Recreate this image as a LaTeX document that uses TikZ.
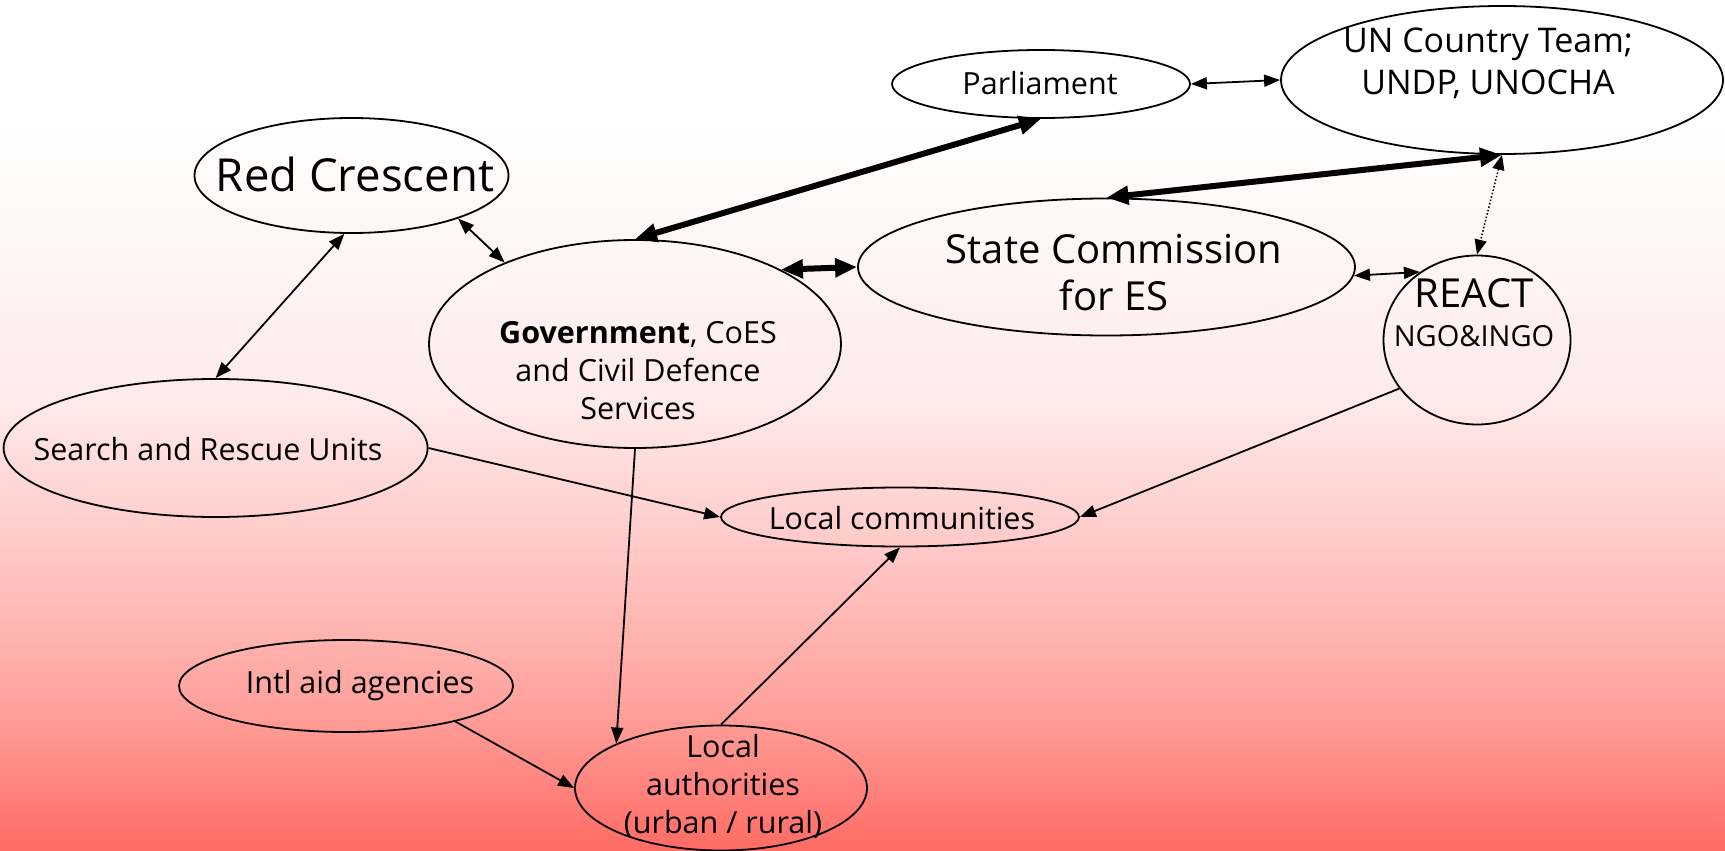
\documentclass[tikz,border=0pt]{standalone}
\usepackage{fontspec}
\setmainfont{Open Sans}
\usetikzlibrary{shapes.geometric,arrows.meta}

\definecolor{bgA}{RGB}{255,234,234}
\definecolor{bgB}{RGB}{255,198,196}
\definecolor{bgC}{RGB}{255,160,155}
\definecolor{bgD}{RGB}{255,107,100}

\begin{document}
\begin{tikzpicture}[x=1pt,y=-1pt,
  bubble/.style={ellipse,draw=black,line width=1.8pt,inner sep=0pt},
  lbl/.style={align=center,inner sep=0pt,font=\fontsize{30.5}{40}\selectfont},
  big/.style={align=center,inner sep=0pt,font=\fontsize{40}{47}\selectfont},
  link/.style={line width=1.8pt,-{Triangle[length=16pt,width=12pt]}},
  both/.style={line width=1.8pt,{Triangle[length=16pt,width=12pt]}-{Triangle[length=16pt,width=12pt]}},
  heavy/.style={line width=6pt,{Triangle[length=22pt,width=18pt]}-{Triangle[length=22pt,width=18pt]}},
  dotlink/.style={line width=1.5pt,dotted,{Triangle[length=15pt,width=12pt]}-{Triangle[length=15pt,width=12pt]}}]

% background: white top fading to red at the bottom
\useasboundingbox (0,0) rectangle (1725,851);
\fill[white] (0,0) rectangle (1725,121);
\shade[top color=white,bottom color=bgA] (0,120) rectangle (1725,401);
\shade[top color=bgA,bottom color=bgB] (0,400) rectangle (1725,561);
\shade[top color=bgB,bottom color=bgC] (0,560) rectangle (1725,711);
\shade[top color=bgC,bottom color=bgD] (0,710) rectangle (1725,851);

% ellipses
\node[bubble,minimum width=298pt,minimum height=68pt]  (parl)  at (1041,84)    {};
\node[bubble,minimum width=442pt,minimum height=148pt] (un)    at (1502,80)    {};
\node[bubble,minimum width=314pt,minimum height=115pt] (rc)    at (351.5,175.5) {};
\node[bubble,minimum width=497pt,minimum height=137pt] (sc)    at (1106.5,267) {};
\node[bubble,minimum width=412pt,minimum height=208pt] (gov)   at (635,344)    {};
\node[bubble,minimum width=187pt,minimum height=169pt] (react) at (1477,340)   {};
\node[bubble,minimum width=424pt,minimum height=138pt] (sar)   at (215.6,448)  {};
\node[bubble,minimum width=358pt,minimum height=59pt]  (lc)    at (900,517)    {};
\node[bubble,minimum width=334pt,minimum height=92pt]  (ia)    at (346,686)    {};
\node[bubble,minimum width=292pt,minimum height=125pt] (la)    at (721,788)    {};

% texts
\node[lbl] (parl-t) at (1040,83) {Parliament};
\node[lbl,font=\fontsize{34}{42}\selectfont] (un-t) at (1488,63) {UN Country Team;\\UNDP, UNOCHA};
\node[lbl,font=\fontsize{45.5}{50}\selectfont] (rc-t) at (355,174) {Red Crescent};
\node[big] (sc-t) at (1114,273) {State Commission\\for ES};
\node[lbl,font=\fontsize{30.5}{38}\selectfont] (gov-t) at (638,371) {\textbf{Government}, CoES\\and Civil Defence\\Services};
\node[big] (react-t) at (1474,293) {REACT};
\node[lbl,font=\fontsize{29}{34}\selectfont] (ngo-t) at (1474,336) {NGO\&INGO};
\node[lbl] (sar-t) at (208,449) {Search and Rescue Units};
\node[lbl] (lc-t) at (902,518) {Local communities};
\node[lbl] (ia-t) at (360,686) {Intl aid agencies};
\node[lbl,font=\fontsize{30.5}{38}\selectfont] (la-t) at (723,786) {Local\\authorities\\(urban / rural)};

% connectors
\draw[both] (parl.east) -- (un.west);
\draw[heavy] (gov.north) -- (parl.south);
\draw[heavy] (sc.north) -- (un.south);
\draw[dotlink] (un.south) -- (react.north);
\draw[heavy] (gov.27) -- (sc.west);
\draw[both] (sc.-2.5) -- (react.130);
\draw[both] (rc.-22) -- (gov.148);
\draw[both] (rc.-97) -- (sar.north);
\draw[link] (sar.east) -- (lc.west);
\draw[link] (gov.south) -- (la.157);
\draw[link] (react.212) -- (lc.east);
\draw[link] (la.north) -- (lc.south);
\draw[link] (ia.-18) -- (la.west);
\end{tikzpicture}
\end{document}
